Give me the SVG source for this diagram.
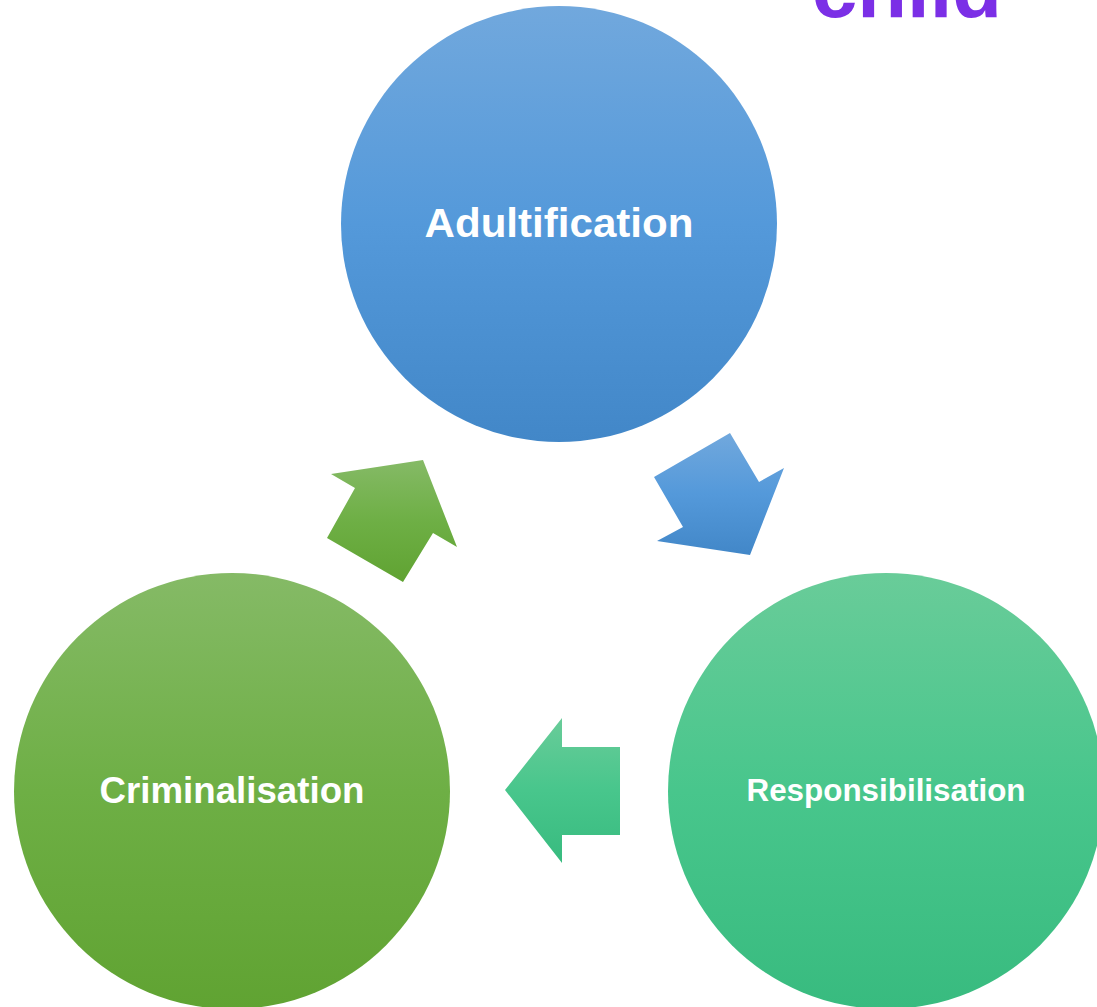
<svg xmlns="http://www.w3.org/2000/svg" width="1097" height="1007" viewBox="0 0 1097 1007">
  <defs>
    <linearGradient id="gBlue" x1="0" y1="0" x2="0" y2="1">
      <stop offset="0" stop-color="#71A8DD"/>
      <stop offset="0.5" stop-color="#5499DA"/>
      <stop offset="1" stop-color="#4287C8"/>
    </linearGradient>
    <linearGradient id="gGreen" x1="0" y1="0" x2="0" y2="1">
      <stop offset="0" stop-color="#85BA66"/>
      <stop offset="0.5" stop-color="#6EAF45"/>
      <stop offset="1" stop-color="#60A332"/>
    </linearGradient>
    <linearGradient id="gTeal" x1="0" y1="0" x2="0" y2="1">
      <stop offset="0" stop-color="#69CC99"/>
      <stop offset="0.5" stop-color="#48C68C"/>
      <stop offset="1" stop-color="#38BB7F"/>
    </linearGradient>
    <style>
      .label { font-family: "Liberation Sans", Arial, sans-serif; font-weight: bold; fill: #FFFFFF; text-anchor: middle; }
      .title { font-family: "Liberation Sans", Arial, sans-serif; font-weight: bold; fill: #7B2FE6; text-anchor: middle; }
    </style>
  </defs>

  <rect width="1097" height="1007" fill="#FFFFFF"/>

  <!-- heading, partly above the top edge -->
  <text class="title" x="907" y="17" font-size="82" textLength="190" lengthAdjust="spacingAndGlyphs">child</text>

  <!-- connectors: block arrows between the stages -->
  <g id="connectors">
    <polygon id="arrow-adult-resp" fill="url(#gBlue)" points="730,433 759,482 784,468 750,555 657,541 683,527 654,477"/>
    <polygon id="arrow-resp-crim" fill="url(#gTeal)" points="505,790 562,718 562,747 620,747 620,835 562,835 562,863"/>
    <polygon id="arrow-crim-adult" fill="url(#gGreen)" points="331,474 423,460 457,547 433,533 403,582 327,538 355,488"/>
  </g>

  <g id="node-adultification">
    <circle cx="559" cy="224" r="218" fill="url(#gBlue)"/>
    <text class="label" x="559" y="237" font-size="40" textLength="269" lengthAdjust="spacingAndGlyphs">Adultification</text>
  </g>

  <g id="node-criminalisation">
    <circle cx="232" cy="791" r="218" fill="url(#gGreen)"/>
    <text class="label" x="232" y="803" font-size="36" textLength="265" lengthAdjust="spacingAndGlyphs">Criminalisation</text>
  </g>

  <g id="node-responsibilisation">
    <circle cx="886" cy="791" r="218" fill="url(#gTeal)"/>
    <text class="label" x="886" y="801" font-size="31" textLength="279" lengthAdjust="spacingAndGlyphs">Responsibilisation</text>
  </g>
</svg>
